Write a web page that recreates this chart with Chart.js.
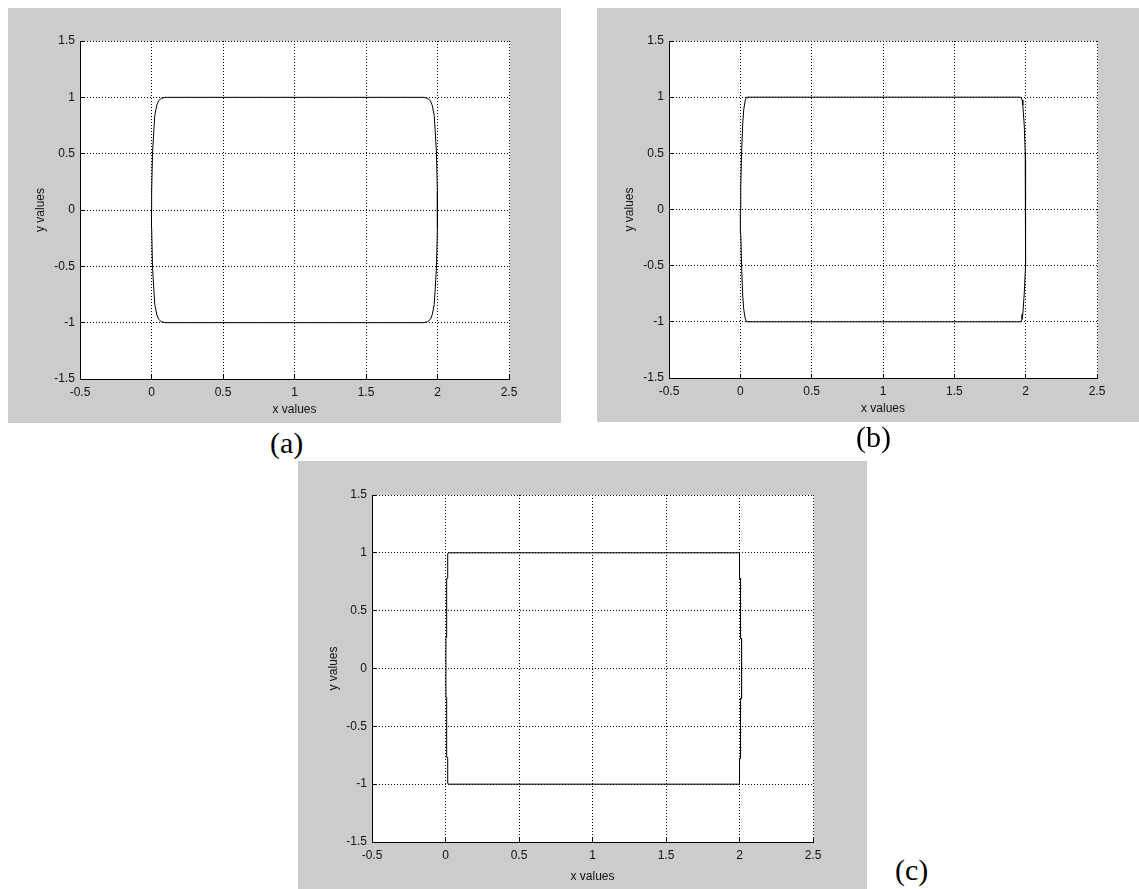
<!DOCTYPE html>
<html>
<head>
<meta charset="utf-8">
<title>x / y values</title>
<script src="https://cdn.jsdelivr.net/npm/chart.js@4.4.0/dist/chart.umd.min.js"></script>
<style>
  body { margin: 0; background: #fff; width: 1139px; height: 889px; position: relative; overflow: hidden; }
  .panel { position: absolute; background: #cccccc; }
  .tag { position: absolute; font-family: "Liberation Serif", "Times New Roman", serif; font-size: 30px; line-height: 1; color: #000; }
</style>
</head>
<body>

<div class="panel" style="left:8px;top:8px;width:553px;height:415px"><canvas id="chartA"></canvas></div>
<div class="panel" style="left:597px;top:8px;width:542px;height:414px"><canvas id="chartB"></canvas></div>
<div class="panel" style="left:298px;top:461px;width:569px;height:428px"><canvas id="chartC"></canvas></div>

<div class="tag" style="left:270px;top:428px">(a)</div>
<div class="tag" style="left:856px;top:422px">(b)</div>
<div class="tag" style="left:895px;top:855px">(c)</div>

<script>
// axis ticks
const xTicks = [-0.5, 0, 0.5, 1, 1.5, 2, 2.5];
const xTickLabels = ['-0.5', '0', '0.5', '1', '1.5', '2', '2.5'];
const yTicks = [-1.5, -1, -0.5, 0, 0.5, 1, 1.5];
const yTickLabels = ['-1.5', '-1', '-0.5', '0', '0.5', '1', '1.5'];

// (a) rounded corners
const xA = [0, 0.001, 0.007, 0.016, 0.023, 0.037, 0.05, 0.068, 0.096,
            1.904, 1.932, 1.95, 1.963, 1.977, 1.984, 1.993, 1.999, 2.0,
            1.999, 1.993, 1.984, 1.977, 1.963, 1.95, 1.932, 1.904,
            0.096, 0.068, 0.05, 0.037, 0.023, 0.016, 0.007, 0.001, 0];
const yA = [0, 0.16, 0.5, 0.7, 0.84, 0.93, 0.97, 0.99, 1.0,
            1.0, 0.99, 0.97, 0.93, 0.84, 0.7, 0.5, 0.16, 0,
            -0.16, -0.5, -0.7, -0.84, -0.93, -0.97, -0.99, -1.0,
            -1.0, -0.99, -0.97, -0.93, -0.84, -0.7, -0.5, -0.16, 0];

// (b) sharper corners
const xB = [0, 0.003, 0.01, 0.017, 0.024, 0.035, 0.045,
            1.965, 1.975, 1.98, 1.99, 1.997, 2.0, 2.0,
            2.0, 1.997, 1.99, 1.98, 1.975, 1.965,
            0.045, 0.035, 0.024, 0.017, 0.01, 0.003, 0];
const yB = [0, 0.21, 0.55, 0.77, 0.89, 0.976, 1.0,
            1.0, 0.976, 0.93, 0.75, 0.5, 0.2, 0,
            -0.2, -0.5, -0.75, -0.93, -0.976, -1.0,
            -1.0, -0.976, -0.89, -0.77, -0.55, -0.21, 0];

// (c) almost square
const xC = [0.003, 0.003, 0.008, 0.008, 0.015, 0.015, 0.018,
            2.0, 2.0, 2.007, 2.007, 2.014, 2.014, 2.007, 2.007, 2.0, 2.0,
            0.018, 0.015, 0.015, 0.008, 0.008, 0.003, 0.003];
const yC = [0, 0.27, 0.27, 0.78, 0.78, 0.99, 1.0,
            1.0, 0.78, 0.78, 0.26, 0.26, -0.26, -0.26, -0.78, -0.78, -1.0,
            -1.0, -0.99, -0.77, -0.77, -0.25, -0.25, 0];

const textFont = { family: "'Liberation Sans', Arial, sans-serif", size: 12 };

function align(p) { return Math.round(p - 0.5) + 0.5; }

// white axes area + inward ticks like matlab
const plotArea = {
    id: 'plotArea',
    beforeDraw: function (chart) {
        const a = chart.chartArea;
        const ctx = chart.ctx;
        ctx.save();
        ctx.fillStyle = '#fff';
        ctx.fillRect(a.left, a.top, a.right - a.left + 1, a.bottom - a.top);
        ctx.restore();
    },
    afterDraw: function (chart) {
        const ctx = chart.ctx;
        const sx = chart.scales.x;
        const sy = chart.scales.y;
        ctx.save();
        ctx.strokeStyle = '#000';
        ctx.lineWidth = 1;
        ctx.beginPath();
        sx.ticks.forEach(function (t) {
            const p = align(sx.getPixelForValue(t.value));
            ctx.moveTo(p, sx.top);
            ctx.lineTo(p, sx.top - 4);
        });
        sy.ticks.forEach(function (t) {
            const p = align(sy.getPixelForValue(t.value));
            ctx.moveTo(sy.right, p);
            ctx.lineTo(sy.right + 4, p);
        });
        ctx.stroke();
        ctx.restore();
    }
};

function makeChart(id, xs, ys, cfg) {
    const ctx = document.getElementById(id).getContext('2d');
    return new Chart(ctx, {
        type: 'scatter',
        data: {
            datasets: [{
                data: xs.map(function (x, i) { return { x: x, y: ys[i] }; }),
                showLine: true,
                borderColor: '#000',
                borderWidth: 1,
                pointRadius: 0,
                tension: 0,
                fill: false
            }]
        },
        options: {
            responsive: true,
            maintainAspectRatio: false,
            animation: false,
            layout: { padding: { left: 0, top: cfg.top, right: cfg.right, bottom: 0 } },
            plugins: { legend: { display: false }, tooltip: { enabled: false } },
            scales: {
                x: {
                    type: 'linear',
                    min: -0.5,
                    max: 2.5,
                    afterBuildTicks: function (s) { s.ticks = xTicks.map(function (v) { return { value: v }; }); },
                    afterFit: function (s) { s.height = cfg.xh; },
                    ticks: {
                        callback: function (v, i) { return xTickLabels[i]; },
                        color: '#111',
                        font: textFont,
                        padding: 6,
                        maxRotation: 0,
                        autoSkip: false
                    },
                    grid: { color: '#000', lineWidth: 1, drawTicks: false },
                    border: { display: true, color: '#000', width: 1, dash: [1, 2] },
                    title: { display: true, text: 'x values', color: '#111', font: textFont, padding: { top: 0, bottom: cfg.xTitle } }
                },
                y: {
                    type: 'linear',
                    min: -1.5,
                    max: 1.5,
                    afterBuildTicks: function (s) { s.ticks = yTicks.map(function (v) { return { value: v }; }); },
                    afterFit: function (s) { s.width = cfg.yw; },
                    ticks: {
                        callback: function (v, i) { return yTickLabels[i]; },
                        color: '#111',
                        font: textFont,
                        padding: 5,
                        autoSkip: false
                    },
                    grid: { color: '#000', lineWidth: 1, drawTicks: false },
                    border: { display: true, color: '#000', width: 1, dash: [1, 2] },
                    title: { display: true, text: 'y values', color: '#111', font: textFont, padding: { top: cfg.yTitle, bottom: 0 } }
                }
            }
        },
        plugins: [plotArea]
    });
}

makeChart('chartA', xA, yA, { yw: 72, xh: 44, top: 33, right: 52, xTitle: 6, yTitle: 25 });
makeChart('chartB', xB, yB, { yw: 72, xh: 44, top: 33, right: 42, xTitle: 6, yTitle: 25 });
makeChart('chartC', xC, yC, { yw: 74, xh: 47, top: 34, right: 54, xTitle: 5, yTitle: 28 });
</script>
</body>
</html>
